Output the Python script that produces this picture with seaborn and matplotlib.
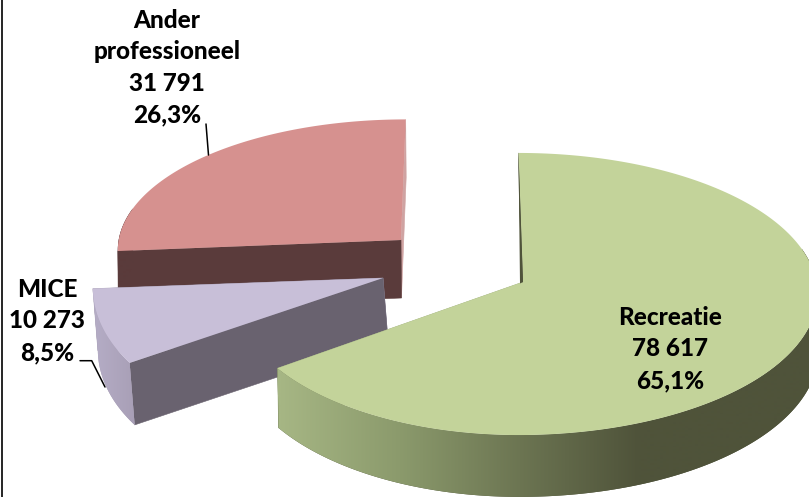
import numpy as np
import pandas as pd
import matplotlib
matplotlib.use("Agg")
import matplotlib.pyplot as plt
import seaborn as sns

categories = ["Recreatie", "MICE", "Ander\nprofessioneel"]
visitors = [78617, 10273, 31791]
shares = [65.1, 8.5, 26.3]

sns.set_theme(style="white")
plt.rcParams["font.family"] = ["Lato", "DejaVu Sans"]

PERSP = 0.078


def fmt_label(name, count, share):
    count_txt = f"{count:,}".replace(",", " ")
    share_txt = f"{share:.1f}".replace(".", ",")
    return f"{name}\n{count_txt}\n{share_txt}%"


def rim_points(t, s):
    """Perspective projection of the rim of one exploded slice, t in radians"""
    X, Z = np.sin(t), np.cos(t)
    d = 1 + PERSP * Z
    a = np.where(X < 0, s["a_left"], s["a_right"])
    return s["cx"] + a * X / d, s["cy"] - s["b"] * Z / d, d


def draw_slice(ax, t0, t1, s):
    t = np.linspace(t0, t1, 240)
    x, y, d = rim_points(t, s)
    bx = x + s["dx"]
    by = y + s["dy"] / d if s["scale_depth"] else y + s["dy"]

    # flat side walls, going down from the apex (the far one first)
    ax.fill([s["ax"], x[-1], bx[-1], s["ax"] + s["dx"]],
            [s["ay"], y[-1], by[-1], s["ay"] + s["dy"]],
            color=s["wall2"], lw=0.4, zorder=s["z"])
    ax.fill([s["ax"], x[0], bx[0], s["ax"] + s["dx"]],
            [s["ay"], y[0], by[0], s["ay"] + s["dy"]],
            color=s["wall"], lw=0.4, zorder=s["z"])

    # curved rim with a left to right gradient, clipped to the rim shape
    front = np.cos(t) < 0.25
    poly = ax.fill(np.r_[x[front], bx[front][::-1]], np.r_[y[front], by[front][::-1]],
                   color=s["rim"][-1], lw=0, zorder=s["z"])[0]
    cmap = sns.blend_palette(s["rim"], 256, as_cmap=True)
    xs = np.arange(0, 810)
    grad = np.clip((xs - s["g0"]) / (s["g1"] - s["g0"]), 0, 1)[None, :]
    im = ax.imshow(grad, extent=(0, 809, 497, 0), cmap=cmap, vmin=0, vmax=1,
                   aspect="auto", zorder=s["z"] + 0.2, interpolation="bilinear")
    im.set_clip_path(poly)

    # top face
    ax.fill(np.r_[s["ax"], x], np.r_[s["ay"], y], color=s["top"], lw=0, zorder=s["z"] + 0.5)


df = pd.DataFrame({"category": categories, "visitors": visitors, "share": shares})
ends = np.cumsum(df["visitors"]) / df["visitors"].sum() * 2 * np.pi
starts = np.r_[0, ends.values[:-1]]

styles = [
    dict(cx=518.5, cy=283, a_left=282.5, a_right=298, b=140.2, ax=523, ay=282, dx=1, dy=57,
         scale_depth=True, top="#c3d39a", wall="#4f533a", wall2="#a6b684",
         rim=["#a6b684", "#8b9a6c", "#6c7552", "#4f533a"], g0=280, g1=640, z=3),
    dict(cx=338.6, cy=276.6, a_left=245, a_right=245, b=142, ax=383, ay=278, dx=5, dy=62,
         scale_depth=False, top="#c8bfd8", wall="#69626f", wall2="#a89fb6",
         rim=["#b5adc6", "#a89fb6"], g0=93, g1=135, z=2),
    dict(cx=405.7, cy=240, a_left=287, a_right=287, b=130, ax=401, ay=240, dx=0.5, dy=58,
         scale_depth=False, top="#d6918f", wall="#5a3b3b", wall2="#cfa3a2",
         rim=["#5a3b3b", "#5a3b3b"], g0=100, g1=400, z=1),
]

fig = plt.figure(figsize=(8.09, 4.97), dpi=100)
ax = fig.add_axes([0, 0, 1, 1])

for t0, t1, s in zip(starts, ends, styles):
    draw_slice(ax, t0, t1, s)

ax.set_xlim(0, 809)
ax.set_ylim(497, 0)
ax.axis("off")

# sliver of the inner wall of the big slice
x0, y0, _ = rim_points(np.array([0.0]), styles[0])
ax.fill([x0[0], 523, 520], [y0[0], 282, 283.5], color="#4f533a", lw=0, zorder=4)

# leader lines
ax.plot([206, 208.5], [124, 155], color="black", lw=1.1, zorder=5)
ax.plot([80, 91.7, 105], [360.7, 360.7, 387], color="black", lw=1.1, zorder=5)

label_pos = [(670, 349), (47, 321), (167, 67.5)]
for pos, (_, row) in zip(label_pos, df.iterrows()):
    ax.text(pos[0], pos[1], fmt_label(row["category"], row["visitors"], row["share"]),
            ha="center", va="center", fontsize=17.5, fontweight=900, color="black",
            linespacing=1.44, zorder=6)

# frame of the original picture
ax.plot([2.5, 2.5], [0, 497], color="black", lw=1.2, zorder=6)

fig.savefig("out.png", dpi=100)
